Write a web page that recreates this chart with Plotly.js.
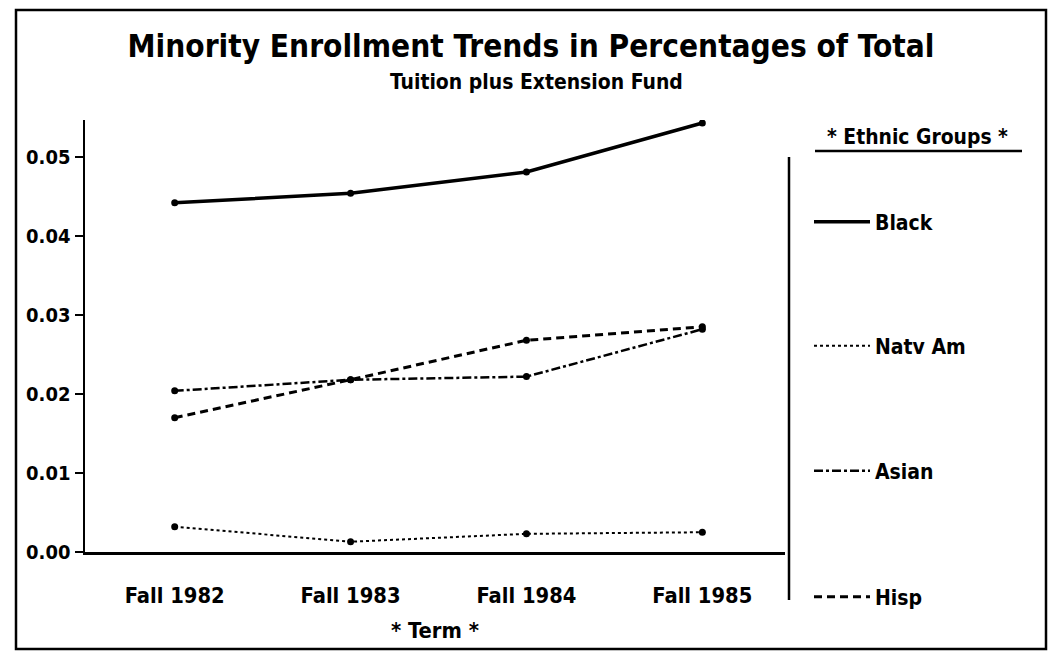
<!DOCTYPE html>
<html>
<head>
<meta charset="utf-8">
<script src="https://cdn.plot.ly/plotly-3.0.1.min.js"></script>
<style>
  html, body { margin: 0; padding: 0; background: #ffffff; }
  #chart { width: 1051px; height: 653px; }
</style>
</head>
<body>
<div id="chart"></div>
<script>
// ---- data ----
const terms = ["Fall 1982", "Fall 1983", "Fall 1984", "Fall 1985"];
const black = [0.0442, 0.0454, 0.0481, 0.0543];
const natvAm = [0.0032, 0.0013, 0.0023, 0.0025];
const asian = [0.0204, 0.0218, 0.0222, 0.0282];
const hisp = [0.0170, 0.0218, 0.0268, 0.0285];
const seriesNames = ["Black", "Natv Am", "Asian", "Hisp"];
const yTicks = [0.00, 0.01, 0.02, 0.03, 0.04, 0.05];
const titleText = "Minority Enrollment Trends in Percentages of Total";
const subtitleText = "Tuition plus Extension Fund";
const xTitleText = "* Term *";
const legendHeading = "* Ethnic Groups *";

// ---- pick the narrowest bold sans family that is installed ----
const ctx = document.createElement("canvas").getContext("2d");
function installed(fam) {
  const probe = "abcdefghijklmnopqrstuvwxyzABCDEFGHIJ0123456789";
  for (const base of ["monospace", "serif"]) {
    ctx.font = "bold 40px " + base;
    const w0 = ctx.measureText(probe).width;
    ctx.font = "bold 40px '" + fam + "', " + base;
    if (Math.abs(ctx.measureText(probe).width - w0) > 0.5) return true;
  }
  return false;
}
const candidates = ["Liberation Sans Narrow", "DejaVu Sans Condensed", "Arial Narrow",
                    "Liberation Sans", "DejaVu Sans"];
const FAM = candidates.find(installed) || "sans-serif";
const FONT = "'" + FAM + "', sans-serif";
function sizeFor(text, targetW, maxSize) {
  ctx.font = "bold 100px " + FONT;
  const w = ctx.measureText(text).width;
  return Math.min(maxSize, 100 * targetW / w);
}
const sTitle = sizeFor(titleText, 807, 42);
const sSub = sizeFor(subtitleText, 293, 28);
const sYTick = Math.max(20, sizeFor("0.05", 43, 28));
const sXTick = sizeFor("Fall 1982", 100, 28);
const sHead = sizeFor(legendHeading, 181, 28);
const sLeg = Math.max(21, (sizeFor("Black", 50, 28) + sizeFor("Asian", 54, 28)) / 2);

const INK = "#000000";
const styles = [
  { dash: "solid", width: 3.5 },
  { dash: "dot", width: 2 },
  { dash: "dashdot", width: 2.5 },
  { dash: "8px,5px", width: 3 }
];
const values = [black, natvAm, asian, hisp];
const legendIds = ["legend", "legend2", "legend3", "legend4"];

const traces = [];
values.forEach((v, i) => {
  traces.push({
    type: "scatter", mode: "lines", name: seriesNames[i],
    x: terms, y: v,
    line: { color: INK, width: styles[i].width, dash: styles[i].dash },
    legend: legendIds[i], hoverinfo: "x+y+name"
  });
});
values.forEach((v, i) => {
  traces.push({
    type: "scatter", mode: "markers", name: seriesNames[i],
    x: terms, y: v, showlegend: false,
    marker: { color: INK, size: 7, symbol: "circle" },
    hoverinfo: "skip"
  });
});

// plot area in pixels: x 85..785, y 120..552
const PL = 85, PR = 785, PT = 120, PB = 552;
const px = v => (v - PL) / (PR - PL);
const py = v => (PB - v) / (PB - PT);
const yMax = (PB - PT) / 79 * 0.01;

function legendAt(yPix) {
  return {
    x: px(809), xanchor: "left",
    y: py(yPix), yanchor: "middle",
    bgcolor: "rgba(0,0,0,0)", borderwidth: 0,
    itemwidth: 56,
    font: { family: FONT, size: sLeg, color: INK, weight: "bold" }
  };
}

const layout = {
  width: 1051, height: 653,
  paper_bgcolor: "#ffffff", plot_bgcolor: "#ffffff",
  margin: { l: PL, r: 1051 - PR, t: PT, b: 653 - PB },
  font: { family: FONT, color: INK, weight: "bold" },
  title: {
    text: titleText,
    font: { family: FONT, size: sTitle, color: INK, weight: "bold" },
    xref: "container", x: 531 / 1051, xanchor: "center",
    yref: "container", y: 1 - 46 / 653, yanchor: "middle"
  },
  showlegend: true,
  legend: legendAt(222),
  legend2: legendAt(346),
  legend3: legendAt(471),
  legend4: legendAt(597),
  xaxis: {
    type: "category",
    range: [-0.51, 3.47],
    showgrid: false, zeroline: false,
    showline: true, linecolor: INK, linewidth: 3,
    ticks: "",
    tickfont: { family: FONT, size: sXTick, color: INK, weight: "bold" },
    ticklabelstandoff: 22,
    title: {
      text: xTitleText,
      font: { family: FONT, size: sXTick, color: INK, weight: "bold" },
      standoff: 16
    }
  },
  yaxis: {
    range: [0, yMax],
    tickvals: yTicks,
    tickformat: ".2f",
    showgrid: false, zeroline: false,
    showline: true, linecolor: INK, linewidth: 2.5,
    ticks: "outside", ticklen: 8, tickwidth: 2.5, tickcolor: INK,
    tickfont: { family: FONT, size: sYTick, color: INK, weight: "bold" }
  },
  yaxis2: {
    overlaying: "y", side: "left",
    range: [0, yMax],
    tickvals: yTicks,
    showgrid: false, zeroline: false, showline: false,
    ticks: "inside", ticklen: 8, tickwidth: 2.5, tickcolor: INK,
    showticklabels: false
  },
  annotations: [
    {
      xref: "paper", yref: "paper",
      x: px(536), y: py(82), xanchor: "center", yanchor: "middle",
      text: subtitleText, showarrow: false,
      font: { family: FONT, size: sSub, color: INK, weight: "bold" }
    },
    {
      xref: "paper", yref: "paper",
      x: px(917), y: py(137), xanchor: "center", yanchor: "middle",
      text: legendHeading, showarrow: false,
      font: { family: FONT, size: sHead, color: INK, weight: "bold" }
    }
  ],
  shapes: [
    // outer frame
    { type: "rect", xref: "paper", yref: "paper",
      x0: px(16), x1: px(1046), y0: py(649), y1: py(10),
      line: { color: INK, width: 2.5 } },
    // vertical separator left of the legend
    { type: "line", xref: "paper", yref: "paper",
      x0: px(789), x1: px(789), y0: py(157), y1: py(600),
      line: { color: INK, width: 2.5 } },
    // underline of the legend heading
    { type: "line", xref: "paper", yref: "paper",
      x0: px(815), x1: px(1022), y0: py(151), y1: py(151),
      line: { color: INK, width: 2.5 } }
  ]
};

Plotly.newPlot("chart", traces, layout, { displayModeBar: false, staticPlot: true });
</script>
</body>
</html>
